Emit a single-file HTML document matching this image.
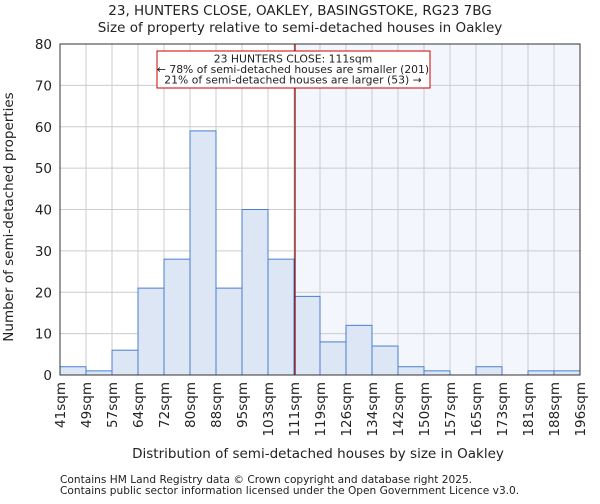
<!DOCTYPE html>
<html><head><meta charset="utf-8"><style>
body{margin:0;background:#fff;font-family:"DejaVu Sans","Liberation Sans",sans-serif}
svg text{font-family:"DejaVu Sans","Liberation Sans",sans-serif;fill:#222}
</style></head><body>
<svg id="c" width="600" height="500">
<text x="300" y="15" font-size="13.5" text-anchor="middle">23, HUNTERS CLOSE, OAKLEY, BASINGSTOKE, RG23 7BG</text>
<text x="300" y="32" font-size="13.5" text-anchor="middle">Size of property relative to semi-detached houses in Oakley</text>
<g id="plot"></g>
<text x="318" y="458" font-size="13.5" text-anchor="middle">Distribution of semi-detached houses by size in Oakley</text>
<text transform="translate(13,217) rotate(-90)" font-size="13.5" text-anchor="middle">Number of semi-detached properties</text>
<text x="60" y="483" font-size="10.6" fill="#444">Contains HM Land Registry data © Crown copyright and database right 2025.</text>
<text x="60" y="494" font-size="10.6" fill="#444">Contains public sector information licensed under the Open Government Licence v3.0.</text>
</svg>
<script>
const categories=["41sqm","49sqm","57sqm","64sqm","72sqm","80sqm","88sqm","95sqm","103sqm","111sqm","119sqm","126sqm","134sqm","142sqm","150sqm","157sqm","165sqm","173sqm","181sqm","188sqm","196sqm"];
const counts=[2,1,6,21,28,59,21,40,28,19,8,12,7,2,1,0,2,0,1,1];
const yTicks=[0,10,20,30,40,50,60,70,80];
const markerBin=9;
const NS="http://www.w3.org/2000/svg";
const L=60,R=580,T=44,B=375,yMax=80;
const bw=(R-L)/counts.length;
const xs=i=>L+i*bw, ys=v=>B-(v/yMax)*(B-T);
const g=document.getElementById('plot');
function mk(t,a){const e=document.createElementNS(NS,t);for(const k in a)e.setAttribute(k,a[k]);g.appendChild(e);return e;}
let e=mk('rect',{x:xs(markerBin),y:T,width:R-xs(markerBin),height:B-T,fill:'#f3f6fd'});


yTicks.forEach(v=>{
 const l=mk('line',{x1:L,x2:R,y1:ys(v),y2:ys(v),stroke:'#ccc','stroke-width':1});
 
 
 const t=mk('text',{x:L-8,y:ys(v)+5,'font-size':13.5,'text-anchor':'end'});t.textContent=v;
 
 
});
categories.forEach((c,i)=>{
 const l=mk('line',{x1:xs(i),x2:xs(i),y1:T,y2:B,stroke:'#ccc','stroke-width':1});
 
 
 const x=xs(i);
 const t=mk('text',{transform:`translate(${x+5},${B+7}) rotate(-90)`,'font-size':13.5,'text-anchor':'end'});t.textContent=c;
 
 
});
counts.forEach((v,i)=>{
 const r=mk('rect',{x:xs(i),y:ys(v),width:bw,height:B-ys(v),fill:'#dce6f5',stroke:'#4a7fd0','stroke-width':1});
 
 
});
e=mk('rect',{x:L,y:T,width:R-L,height:B-T,fill:'none',stroke:'#333','stroke-width':1});


e=mk('line',{x1:xs(markerBin)+1,x2:xs(markerBin)+1,y1:T,y2:B,stroke:'#8b0000','stroke-width':1.2});


e=mk('rect',{x:157,y:51,width:273,height:37,fill:'#fff',stroke:'#c00','stroke-width':1});


["23 HUNTERS CLOSE: 111sqm","← 78% of semi-detached houses are smaller (201)","21% of semi-detached houses are larger (53) →"].forEach((s,i)=>{
 const t=mk('text',{x:293,y:62.5+i*10.5,'font-size':10.8,'text-anchor':'middle'});t.textContent=s;
 
 
});
</script>
</body></html>
